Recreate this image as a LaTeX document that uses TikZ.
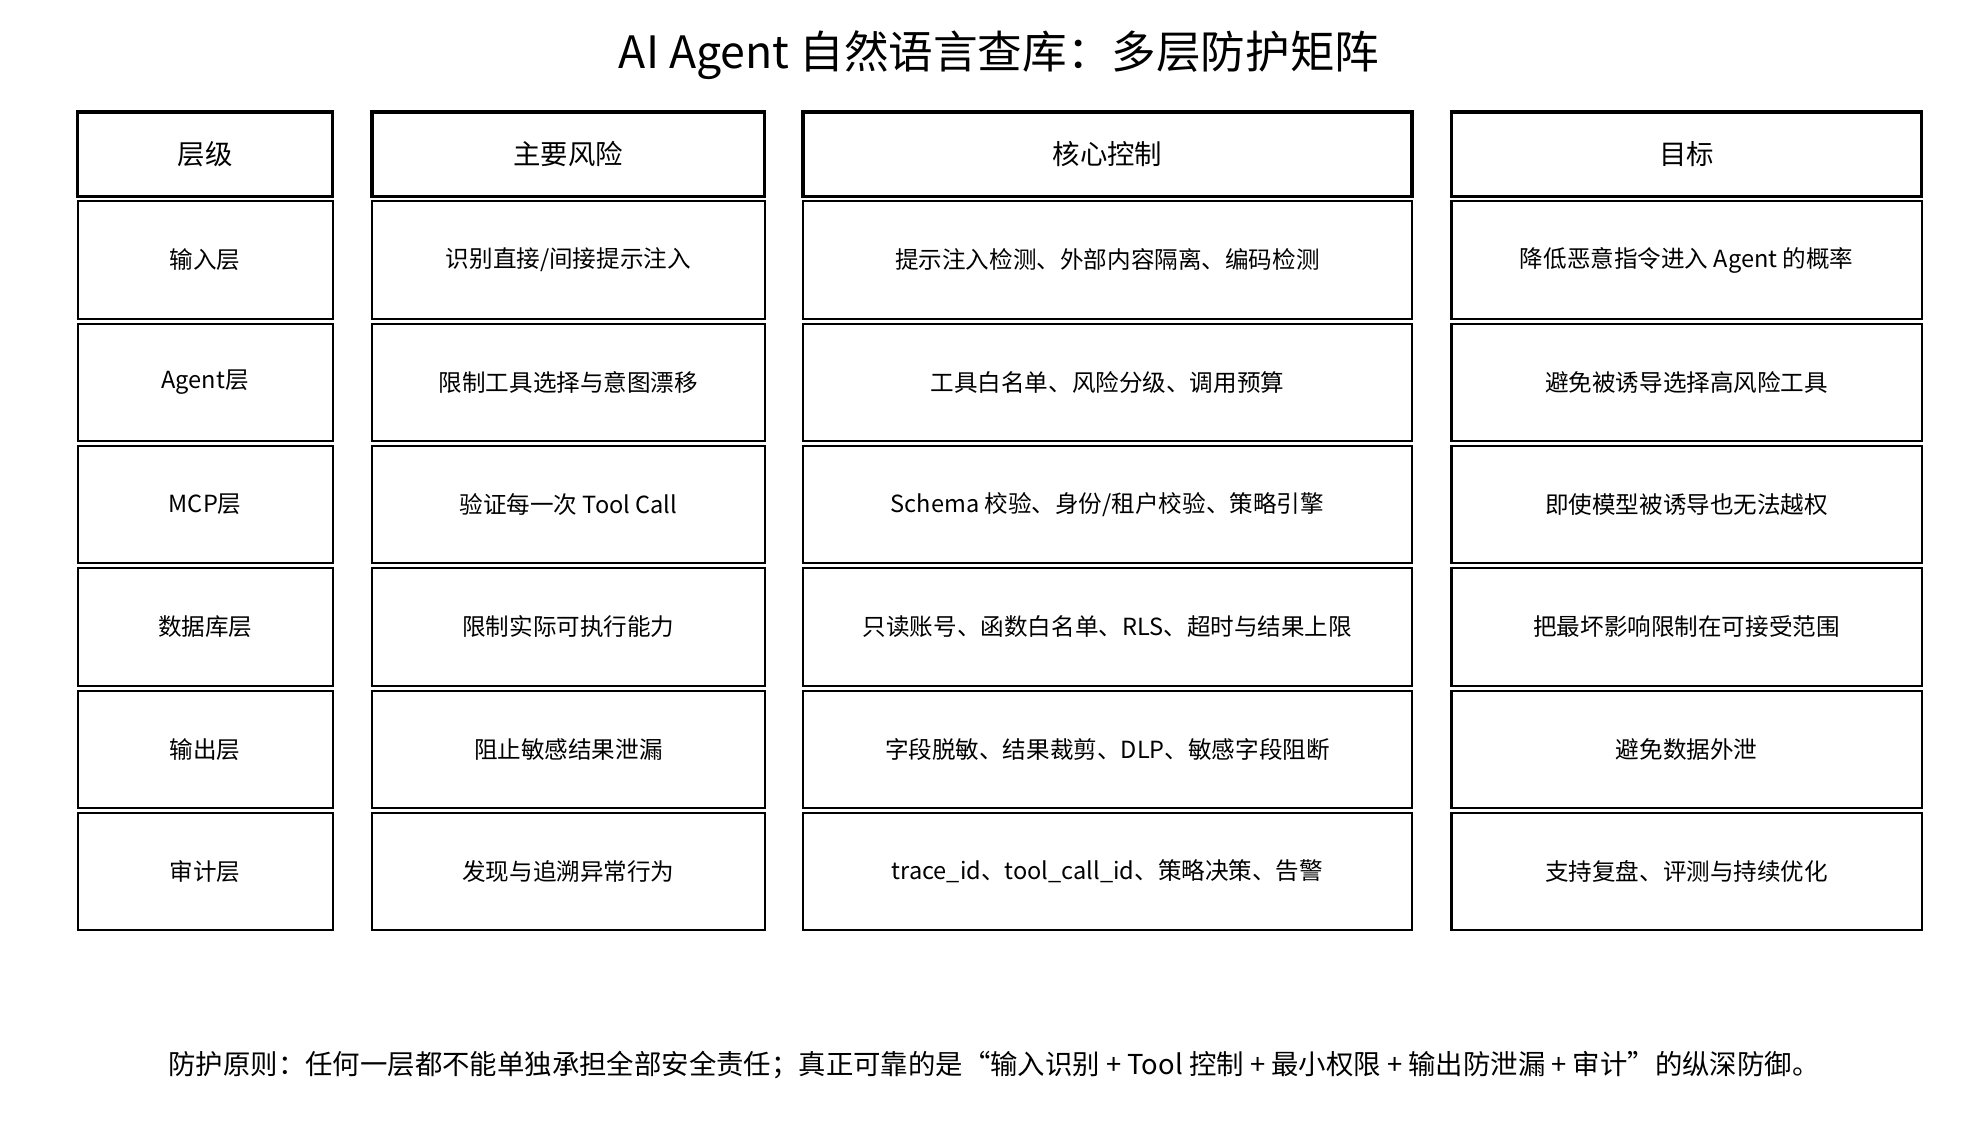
\documentclass[tikz,border=0pt]{standalone}
\usepackage{fontspec}
\setmainfont{Noto Sans CJK SC}
\begin{document}
\begin{tikzpicture}[x=1pt,y=-1pt,
  cell/.style={draw,line width=1.6pt,inner sep=0pt,font=\fontsize{18.5}{22}\selectfont},
  head/.style={cell,line width=2.6pt,font=\fontsize{21.5}{26}\selectfont}]
\useasboundingbox (0,0) rectangle (1560,898);
\node (title) at (784,43) {\fontsize{35}{40}\selectfont AI Agent 自然语言查库：多层防护矩阵};
\foreach \l/\r/\t [count=\i] in {61/261/层级,292/600/主要风险,630/1108/核心控制,1139/1508/目标}
  \node[head,minimum width={\r-\l},minimum height=66] (h\i) at ({(\l+\r)/2},121) {\t};
\foreach \y/\a/\b/\c/\d [count=\j] in {
 204/输入层/{识别直接/间接提示注入}/提示注入检测、外部内容隔离、编码检测/降低恶意指令进入 Agent 的概率,
 300/Agent层/限制工具选择与意图漂移/工具白名单、风险分级、调用预算/避免被诱导选择高风险工具,
 396/MCP层/验证每一次 Tool Call/{Schema 校验、身份/租户校验、策略引擎}/即使模型被诱导也无法越权,
 492/数据库层/限制实际可执行能力/只读账号、函数白名单、RLS、超时与结果上限/把最坏影响限制在可接受范围,
 588/输出层/阻止敏感结果泄漏/字段脱敏、结果裁剪、DLP、敏感字段阻断/避免数据外泄,
 684/审计层/发现与追溯异常行为/trace\_id、tool\_call\_id、策略决策、告警/支持复盘、评测与持续优化}{
  \node[cell,minimum width=200,minimum height=92] (r\j a) at (161,\y) {\a};
  \node[cell,minimum width=308,minimum height=92] (r\j b) at (446,\y) {\b};
  \node[cell,minimum width=478,minimum height=92] (r\j c) at (869,\y) {\c};
  \node[cell,minimum width=369,minimum height=92] (r\j d) at (1323.5,\y) {\d};
}
\node (foot) at (780,836) {\fontsize{21.5}{26}\selectfont 防护原则：任何一层都不能单独承担全部安全责任；真正可靠的是“输入识别 + Tool 控制 + 最小权限 + 输出防泄漏 + 审计”的纵深防御。};
\end{tikzpicture}
\end{document}
